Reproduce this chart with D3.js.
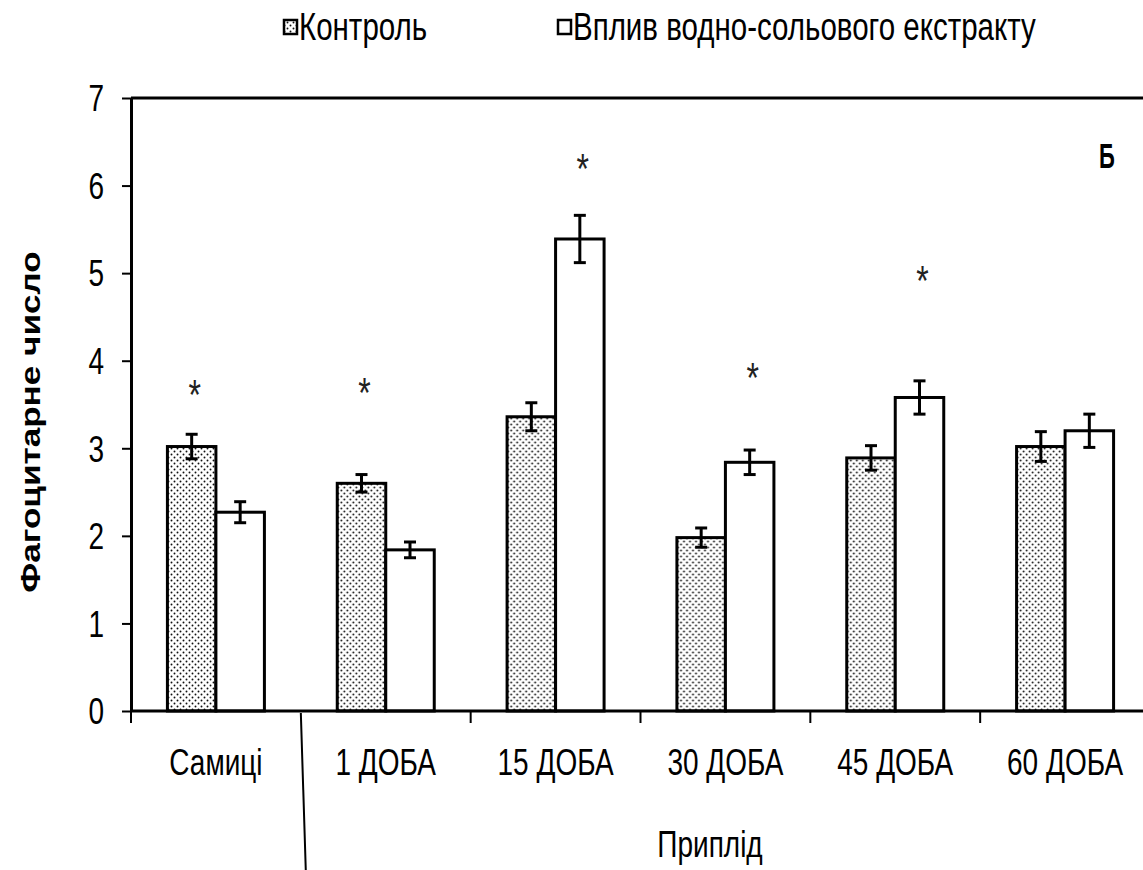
<html>
    <head>
        <style>
            body { margin: 0; background: #fff; }
            text { font-family: "Liberation Sans", Arial, sans-serif; }
        </style>
        <script src="https://d3js.org/d3.v7.min.js"></script>
    </head>
    <body>
        <svg id="chart" width="1143" height="870"></svg>
        <script>
            // data
            const categories = ["Самиці", "1 ДОБА", "15 ДОБА", "30 ДОБА", "45 ДОБА", "60 ДОБА"];
            const seriesNames = ["Контроль", "Вплив водно-сольового екстракту"];
            const controlValues = [3.02, 2.60, 3.36, 1.98, 2.89, 3.02];
            const controlErrors = [0.14, 0.10, 0.16, 0.11, 0.14, 0.17];
            const extractValues = [2.27, 1.84, 5.39, 2.84, 3.58, 3.20];
            const extractErrors = [0.12, 0.09, 0.27, 0.14, 0.19, 0.19];
            // significance marks: category, which series, height of mark
            const starMarks = [
                {cat: "Самиці", series: 0, v: 3.72},
                {cat: "1 ДОБА", series: 0, v: 3.74},
                {cat: "15 ДОБА", series: 1, v: 6.30},
                {cat: "30 ДОБА", series: 1, v: 3.92},
                {cat: "45 ДОБА", series: 1, v: 5.03}
            ];
            const yTicks = [0, 1, 2, 3, 4, 5, 6, 7];

            const svg = d3.select('#chart');
            const stretch = 1.3; // text in the original is stretched vertically

            // stipple pattern for control bars
            const defs = svg.append('defs');
            const pat = defs.append('pattern')
                .attr('id', 'dots')
                .attr('patternUnits', 'userSpaceOnUse')
                .attr('width', 6).attr('height', 6);
            pat.append('rect').attr('width', 6).attr('height', 6).attr('fill', '#fff');
            pat.append('circle').attr('cx', 1.5).attr('cy', 1.5).attr('r', 0.95).attr('fill', '#111');
            pat.append('circle').attr('cx', 4.5).attr('cy', 4.5).attr('r', 0.95).attr('fill', '#111');

            const plotLeft = 131, plotRight = 1150, plotTop = 98, plotBottom = 711;

            const yScale = d3.scaleLinear().domain([0, 7]).range([plotBottom, plotTop]);
            const xScale = d3.scaleBand().domain(categories).range([plotLeft, plotRight]).padding(0);
            const barW = 48.5;
            const xSub = d3.scaleBand().domain([0, 1])
                .range([xScale.bandwidth() / 2 - barW, xScale.bandwidth() / 2 + barW]);

            const rows = categories.map((c, i) => ({
                cat: c,
                vals: [
                    {s: 0, v: controlValues[i], e: controlErrors[i]},
                    {s: 1, v: extractValues[i], e: extractErrors[i]}
                ]
            }));

            // bars
            const groups = svg.selectAll('g.cat')
                .data(rows)
                .enter()
                .append('g')
                .attr('class', 'cat')
                .attr('transform', d => `translate(${xScale(d.cat)},0)`);

            groups.selectAll('rect')
                .data(d => d.vals)
                .enter()
                .append('rect')
                .attr('x', d => xSub(d.s))
                .attr('y', d => yScale(d.v))
                .attr('width', xSub.bandwidth())
                .attr('height', d => yScale(0) - yScale(d.v))
                .attr('fill', d => d.s === 0 ? 'url(#dots)' : '#fff')
                .attr('stroke', '#000')
                .attr('stroke-width', 3);

            // error bars
            const eb = groups.selectAll('g.err')
                .data(d => d.vals)
                .enter()
                .append('g')
                .attr('class', 'err')
                .attr('stroke', '#000')
                .attr('stroke-width', 3);
            const cx = d => xSub(d.s) + xSub.bandwidth() / 2;
            eb.append('line')
                .attr('x1', cx).attr('x2', cx)
                .attr('y1', d => yScale(d.v + d.e)).attr('y2', d => yScale(d.v - d.e));
            eb.append('line')
                .attr('x1', d => cx(d) - 6).attr('x2', d => cx(d) + 6)
                .attr('y1', d => yScale(d.v + d.e)).attr('y2', d => yScale(d.v + d.e));
            eb.append('line')
                .attr('x1', d => cx(d) - 6).attr('x2', d => cx(d) + 6)
                .attr('y1', d => yScale(d.v - d.e)).attr('y2', d => yScale(d.v - d.e));

            // asterisks
            svg.selectAll('text.star')
                .data(starMarks)
                .enter()
                .append('text')
                .attr('class', 'star')
                .attr('text-anchor', 'middle')
                .attr('font-size', 32)
                .attr('fill', '#222')
                .attr('transform', d => `translate(${xScale(d.cat) + xSub(d.series) + xSub.bandwidth() / 2 + 3},${yScale(d.v) + 24}) scale(1,${stretch})`)
                .text('*');

            // y axis
            const yAxis = svg.append('g')
                .attr('transform', `translate(${plotLeft},0)`)
                .call(d3.axisLeft(yScale).tickValues(yTicks).tickFormat(d3.format('d')).tickSize(9).tickSizeOuter(0).tickPadding(18));
            yAxis.select('.domain').attr('stroke-width', 3);
            yAxis.selectAll('.tick line').attr('stroke-width', 2);
            yAxis.selectAll('.tick text')
                .attr('font-size', 28)
                .attr('font-family', '"Liberation Sans", Arial, sans-serif')
                .attr('dy', '0.35em')
                .attr('transform', `scale(1,${stretch})`);

            // top frame line
            svg.append('line')
                .attr('x1', plotLeft).attr('x2', 1143)
                .attr('y1', plotTop).attr('y2', plotTop)
                .attr('stroke', '#000').attr('stroke-width', 3);

            // x axis line
            svg.append('line')
                .attr('x1', plotLeft - 1).attr('x2', 1143)
                .attr('y1', plotBottom).attr('y2', plotBottom)
                .attr('stroke', '#000').attr('stroke-width', 3);

            // category boundary ticks
            const bounds = categories.map(c => xScale(c));
            svg.selectAll('line.bt')
                .data(bounds.filter((b, i) => i !== 1))
                .enter()
                .append('line')
                .attr('class', 'bt')
                .attr('x1', d => d).attr('x2', d => d)
                .attr('y1', plotBottom).attr('y2', plotBottom + 12)
                .attr('stroke', '#000').attr('stroke-width', 2);

            // long separator between females and offspring
            svg.append('line')
                .attr('x1', bounds[1]).attr('x2', bounds[1] + 5)
                .attr('y1', plotBottom + 2).attr('y2', 872)
                .attr('stroke', '#000').attr('stroke-width', 2);

            // category labels
            svg.selectAll('text.cl')
                .data(categories)
                .enter()
                .append('text')
                .attr('class', 'cl')
                .attr('text-anchor', 'middle')
                .attr('font-size', 28)
                .attr('transform', d => `translate(${xScale(d) + xScale.bandwidth() / 2},775) scale(1,${stretch})`)
                .text(d => d);

            // group label
            svg.append('text')
                .attr('text-anchor', 'middle')
                .attr('font-size', 28)
                .attr('transform', `translate(710,857) scale(1,${stretch})`)
                .text('Приплід');

            // y title
            svg.append('text')
                .attr('text-anchor', 'middle')
                .attr('font-size', 27)
                .attr('font-weight', 'bold')
                .attr('transform', `translate(40,422) scale(1,${stretch}) rotate(-90)`)
                .text('Фагоцитарне число');

            // panel letter
            svg.append('text')
                .attr('text-anchor', 'middle')
                .attr('font-size', 22)
                .attr('font-weight', 'bold')
                .attr('transform', `translate(1107,168) scale(1,1.6)`)
                .text('Б');

            // legend
            const legendX = [283, 557];
            const leg = svg.selectAll('g.leg')
                .data(seriesNames)
                .enter()
                .append('g')
                .attr('class', 'leg')
                .attr('transform', (d, i) => `translate(${legendX[i]},0)`);
            leg.append('rect')
                .attr('x', 1).attr('y', 20)
                .attr('width', 13).attr('height', 14)
                .attr('fill', (d, i) => i === 0 ? 'url(#dots)' : '#fff')
                .attr('stroke', '#000').attr('stroke-width', 2.5);
            leg.append('text')
                .attr('font-size', 29.5)
                .attr('transform', `translate(16,40) scale(1,${stretch})`)
                .text(d => d);
        </script>
    </body>
</html>
